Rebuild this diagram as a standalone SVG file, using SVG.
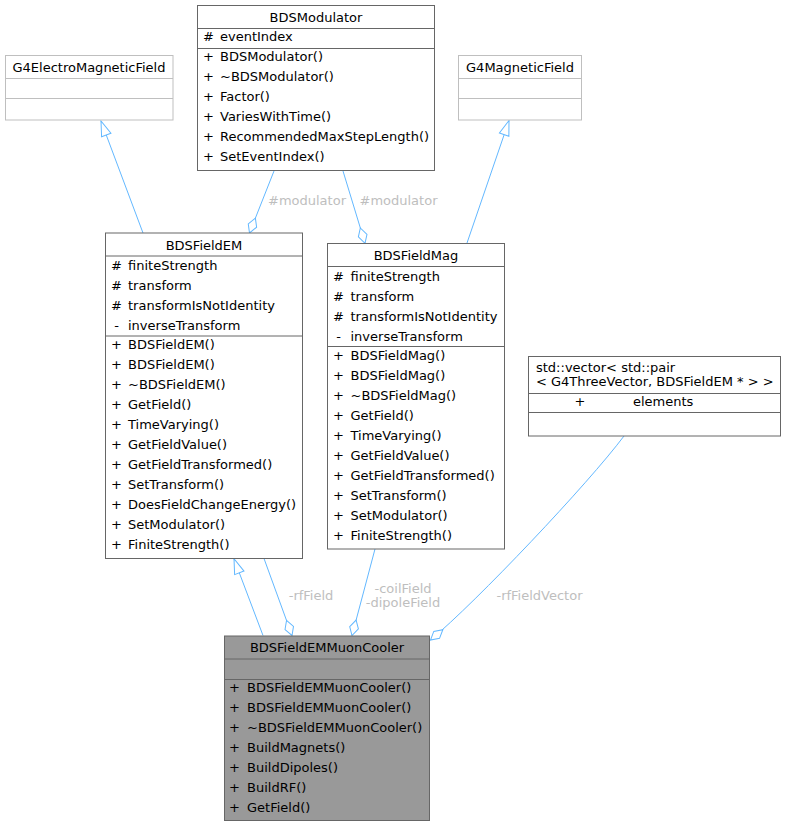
<svg xmlns="http://www.w3.org/2000/svg" width="786" height="827" viewBox="0 0 786 827">
<style>
text{font-family:"DejaVu Sans","Liberation Sans",sans-serif;font-size:13px;fill:#000}
.t{text-anchor:middle}
.s{text-anchor:middle}
.box{fill:#fff;stroke:#666;stroke-width:1}
.dv{stroke:#666;stroke-width:1}
.gbox{fill:#fff;stroke:#bfbfbf;stroke-width:1}
.gdv{stroke:#bfbfbf;stroke-width:1}
.cool{fill:#999;stroke:#666;stroke-width:1}
.e{fill:none;stroke:#63b8ff;stroke-width:1}
.lbl{fill:#bebebe;text-anchor:middle}
</style>
<defs>
<marker id="tri" markerUnits="userSpaceOnUse" markerWidth="20" markerHeight="14" refX="15" refY="5.5" orient="auto" overflow="visible">
<path d="M15,5.5 L0,0.5 L0,10.5 Z" fill="#fff" stroke="#63b8ff" stroke-width="1"/>
</marker>
<marker id="dia" markerUnits="userSpaceOnUse" markerWidth="20" markerHeight="12" refX="16" refY="5" orient="auto" overflow="visible">
<path d="M0,5 L8,0.5 L16,5 L8,9.5 Z" fill="#fff" stroke="#63b8ff" stroke-width="1"/>
</marker>
</defs>

<g id="connectors">
<path class="e" d="M143,233 L101,121" marker-end="url(#tri)"/>
<path class="e" d="M467,243 L509,120.5" marker-end="url(#tri)"/>
<path class="e" d="M274,171 L249.5,233" marker-end="url(#dia)"/>
<path class="e" d="M343,171 L365,243.3" marker-end="url(#dia)"/>
<path class="e" d="M263,635.5 L234,558.8" marker-end="url(#tri)"/>
<path class="e" d="M264,558.5 L292,635.5" marker-end="url(#dia)"/>
<path class="e" d="M375,549 L352,635.5" marker-end="url(#dia)"/>
<path class="e" d="M624,436 C588,484 476.7,601.6 430.5,640" marker-end="url(#dia)"/>
<text class="lbl" x="307" y="205">#modulator</text>
<text class="lbl" x="398.5" y="205">#modulator</text>
<text class="lbl" x="311" y="600">-rfField</text>
<text class="lbl" x="403" y="593">-coilField</text>
<text class="lbl" x="403" y="607">-dipoleField</text>
<text class="lbl" x="539.5" y="600">-rfFieldVector</text>
</g>

<g id="G4ElectroMagneticField">
<rect class="gbox" x="5.5" y="55.5" width="167.5" height="64.5"/>
<line class="gdv" x1="5.5" y1="78.5" x2="173" y2="78.5"/>
<line class="gdv" x1="5.5" y1="98.5" x2="173" y2="98.5"/>
<text class="t" x="89" y="72">G4ElectroMagneticField</text>
</g>

<g id="G4MagneticField">
<rect class="gbox" x="458.5" y="55.5" width="123" height="64.5"/>
<line class="gdv" x1="458.5" y1="78.5" x2="581.5" y2="78.5"/>
<line class="gdv" x1="458.5" y1="98.5" x2="581.5" y2="98.5"/>
<text class="t" x="520" y="72">G4MagneticField</text>
</g>

<g id="BDSModulator">
<rect class="box" x="197.5" y="5.5" width="237" height="165"/>
<line class="dv" x1="197.5" y1="28.5" x2="434.5" y2="28.5"/>
<line class="dv" x1="197.5" y1="48.5" x2="434.5" y2="48.5"/>
<text class="t" x="316" y="21.5">BDSModulator</text>
<text class="s" x="208.5" y="41">#</text><text x="220" y="41">eventIndex</text>
<text class="s" x="208.5" y="61">+</text><text x="220" y="61">BDSModulator()</text>
<text class="s" x="208.5" y="81">+</text><text x="220" y="81">~BDSModulator()</text>
<text class="s" x="208.5" y="101">+</text><text x="220" y="101">Factor()</text>
<text class="s" x="208.5" y="121">+</text><text x="220" y="121">VariesWithTime()</text>
<text class="s" x="208.5" y="141">+</text><text x="220" y="141">RecommendedMaxStepLength()</text>
<text class="s" x="208.5" y="161">+</text><text x="220" y="161">SetEventIndex()</text>
</g>

<g id="BDSFieldEM">
<rect class="box" x="105.5" y="233" width="197" height="325.5"/>
<line class="dv" x1="105.5" y1="256" x2="302.5" y2="256"/>
<line class="dv" x1="105.5" y1="336" x2="302.5" y2="336"/>
<text class="t" x="204" y="249.5">BDSFieldEM</text>
<text class="s" x="116.5" y="269.5">#</text><text x="128" y="269.5">finiteStrength</text>
<text class="s" x="116.5" y="289.5">#</text><text x="128" y="289.5">transform</text>
<text class="s" x="116.5" y="309.5">#</text><text x="128" y="309.5">transformIsNotIdentity</text>
<text class="s" x="116.5" y="329.5">-</text><text x="128" y="329.5">inverseTransform</text>
<text class="s" x="116.5" y="349">+</text><text x="128" y="349">BDSFieldEM()</text>
<text class="s" x="116.5" y="369">+</text><text x="128" y="369">BDSFieldEM()</text>
<text class="s" x="116.5" y="389">+</text><text x="128" y="389">~BDSFieldEM()</text>
<text class="s" x="116.5" y="409">+</text><text x="128" y="409">GetField()</text>
<text class="s" x="116.5" y="429">+</text><text x="128" y="429">TimeVarying()</text>
<text class="s" x="116.5" y="449">+</text><text x="128" y="449">GetFieldValue()</text>
<text class="s" x="116.5" y="469">+</text><text x="128" y="469">GetFieldTransformed()</text>
<text class="s" x="116.5" y="489">+</text><text x="128" y="489">SetTransform()</text>
<text class="s" x="116.5" y="509">+</text><text x="128" y="509">DoesFieldChangeEnergy()</text>
<text class="s" x="116.5" y="529">+</text><text x="128" y="529">SetModulator()</text>
<text class="s" x="116.5" y="549">+</text><text x="128" y="549">FiniteStrength()</text>
</g>

<g id="BDSFieldMag">
<rect class="box" x="327.5" y="243.5" width="177" height="305.5"/>
<line class="dv" x1="327.5" y1="266.5" x2="504.5" y2="266.5"/>
<line class="dv" x1="327.5" y1="346.5" x2="504.5" y2="346.5"/>
<text class="t" x="416" y="260">BDSFieldMag</text>
<text class="s" x="338.5" y="280.5">#</text><text x="350.5" y="280.5">finiteStrength</text>
<text class="s" x="338.5" y="300.5">#</text><text x="350.5" y="300.5">transform</text>
<text class="s" x="338.5" y="320.5">#</text><text x="350.5" y="320.5">transformIsNotIdentity</text>
<text class="s" x="338.5" y="340.5">-</text><text x="350.5" y="340.5">inverseTransform</text>
<text class="s" x="338.5" y="359.5">+</text><text x="350.5" y="359.5">BDSFieldMag()</text>
<text class="s" x="338.5" y="379.5">+</text><text x="350.5" y="379.5">BDSFieldMag()</text>
<text class="s" x="338.5" y="399.5">+</text><text x="350.5" y="399.5">~BDSFieldMag()</text>
<text class="s" x="338.5" y="419.5">+</text><text x="350.5" y="419.5">GetField()</text>
<text class="s" x="338.5" y="439.5">+</text><text x="350.5" y="439.5">TimeVarying()</text>
<text class="s" x="338.5" y="459.5">+</text><text x="350.5" y="459.5">GetFieldValue()</text>
<text class="s" x="338.5" y="479.5">+</text><text x="350.5" y="479.5">GetFieldTransformed()</text>
<text class="s" x="338.5" y="499.5">+</text><text x="350.5" y="499.5">SetTransform()</text>
<text class="s" x="338.5" y="519.5">+</text><text x="350.5" y="519.5">SetModulator()</text>
<text class="s" x="338.5" y="539.5">+</text><text x="350.5" y="539.5">FiniteStrength()</text>
</g>

<g id="StdVectorPair">
<rect class="box" x="528.5" y="356.5" width="252" height="79.5"/>
<line class="dv" x1="528.5" y1="393.5" x2="780.5" y2="393.5"/>
<line class="dv" x1="528.5" y1="412.5" x2="780.5" y2="412.5"/>
<text x="536" y="371.5">std::vector&lt; std::pair</text>
<text x="536" y="385.5">&lt; G4ThreeVector, BDSFieldEM * &gt; &gt;</text>
<text class="s" x="580" y="406">+</text><text x="633" y="406">elements</text>
</g>

<g id="BDSFieldEMMuonCooler">
<rect class="cool" x="224.5" y="636" width="205" height="184.5"/>
<line class="dv" x1="224.5" y1="659" x2="429.5" y2="659"/>
<line class="dv" x1="224.5" y1="679.5" x2="429.5" y2="679.5"/>
<text class="t" x="327" y="652">BDSFieldEMMuonCooler</text>
<text class="s" x="234.5" y="692">+</text><text x="247" y="692">BDSFieldEMMuonCooler()</text>
<text class="s" x="234.5" y="712">+</text><text x="247" y="712">BDSFieldEMMuonCooler()</text>
<text class="s" x="234.5" y="732">+</text><text x="247" y="732">~BDSFieldEMMuonCooler()</text>
<text class="s" x="234.5" y="752">+</text><text x="247" y="752">BuildMagnets()</text>
<text class="s" x="234.5" y="772">+</text><text x="247" y="772">BuildDipoles()</text>
<text class="s" x="234.5" y="792">+</text><text x="247" y="792">BuildRF()</text>
<text class="s" x="234.5" y="812">+</text><text x="247" y="812">GetField()</text>
</g>
</svg>
